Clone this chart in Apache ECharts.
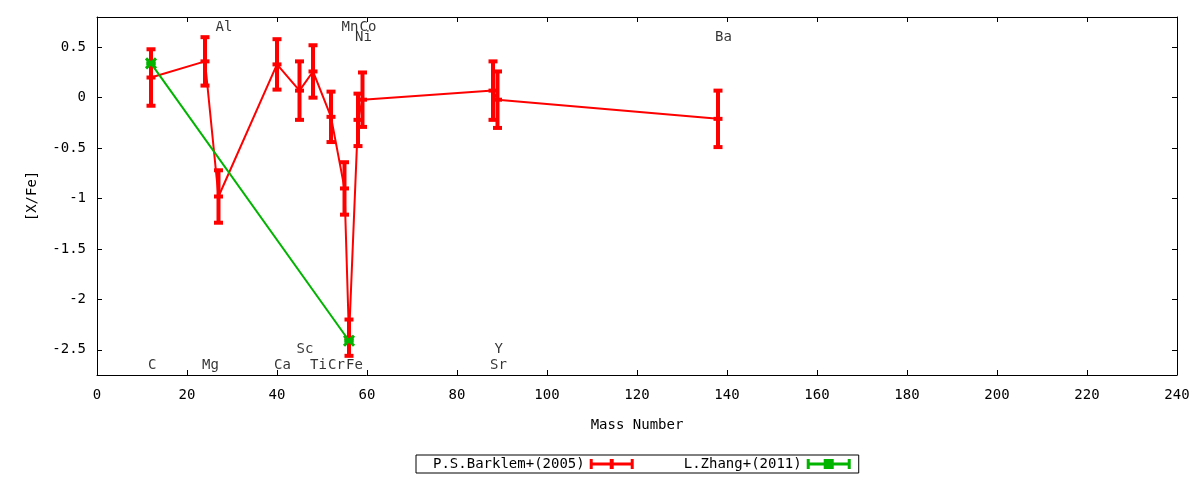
<!DOCTYPE html>
<html>
<head>
<meta charset="utf-8">
<script src="https://cdn.jsdelivr.net/npm/echarts@6/dist/echarts.min.js"></script>
<style>
html,body{margin:0;padding:0;background:#fff;}
#chart{width:1200px;height:480px;}
</style>
</head>
<body>
<div id="chart"></div>
<script>
// ---- data ----
const elements      = ['C','Mg','Al','Ca','Sc','Ti','Cr','Mn','Fe','Ni','Co','Sr','Y','Ba'];
const massNumbers   = [12, 24, 27, 40, 45, 48, 52, 55, 56, 58, 59, 88, 89, 138];
const barklemValues = [0.20, 0.36, -0.98, 0.33, 0.07, 0.26, -0.19, -0.90, -2.38, -0.22, -0.02, 0.07, -0.02, -0.21];
const barklemErrors = [0.28, 0.24, 0.26, 0.25, 0.29, 0.26, 0.25, 0.26, 0.18, 0.26, 0.27, 0.29, 0.28, 0.28];
const zhangMass     = [12, 56];
const zhangValues   = [0.34, -2.41];
const zhangErrors   = [0, 0];
const labelLevels   = [-2.65, -2.65, 0.7, -2.65, -2.5, -2.65, -2.65, 0.7, -2.65, 0.6, 0.7, -2.65, -2.5, 0.6];
const xTicks        = [0,20,40,60,80,100,120,140,160,180,200,220,240];
const yTicks        = [-2.5,-2,-1.5,-1,-0.5,0,0.5];
const seriesNames   = ['P.S.Barklem+(2005)', 'L.Zhang+(2011)'];

const RED = '#ff0000';
const GREEN = '#00b400';
const FONT = '"DejaVu Sans Mono", monospace';

const barklemPts = massNumbers.map((m, i) => [m, barklemValues[i], barklemErrors[i]]);
const zhangPts = zhangMass.map((m, i) => [m, zhangValues[i], zhangErrors[i]]);
const labelPts = massNumbers.map((m, i) => ({ value: [m, labelLevels[i]], name: elements[i] }));

function errRender(color, green) {
  return function (params, api) {
    const x = api.value(0), y = api.value(1), e = api.value(2);
    const top = api.coord([x, y + e]);
    const bot = api.coord([x, y - e]);
    const mid = api.coord([x, y]);
    const st = { fill: color };
    const children = [
      { type: 'rect', shape: { x: top[0] - 2, y: top[1], width: 4, height: Math.max(bot[1] - top[1], 0) }, style: st },
      { type: 'rect', shape: { x: top[0] - 4.5, y: top[1] - 2, width: 9, height: 4 }, style: st },
      { type: 'rect', shape: { x: bot[0] - 4.5, y: bot[1] - 2, width: 9, height: 4 }, style: st }
    ];
    if (green) {
      children.push({ type: 'line', shape: { x1: mid[0] - 5, y1: mid[1] - 5, x2: mid[0] + 5, y2: mid[1] + 5 }, style: { stroke: color, lineWidth: 3 } });
      children.push({ type: 'line', shape: { x1: mid[0] - 5, y1: mid[1] + 5, x2: mid[0] + 5, y2: mid[1] - 5 }, style: { stroke: color, lineWidth: 3 } });
    } else {
      children.push({ type: 'rect', shape: { x: mid[0] - 4.5, y: mid[1] - 2, width: 9, height: 4 }, style: st });
    }
    return { type: 'group', children: children };
  };
}

const lineStyleAxis = { axisLine: { show: true, onZero: false, lineStyle: { color: '#000', width: 1 } }, splitLine: { show: false } };
const tickStyle = { show: true, inside: true, length: 5, lineStyle: { color: '#000' } };

const chart = echarts.init(document.getElementById('chart'));
chart.setOption({
  animation: false,
  backgroundColor: '#fff',
  grid: { left: 97, right: 23, top: 17, bottom: 105 },
  legend: {
    left: 416, top: 455,
    orient: 'horizontal',
    align: 'right',
    padding: [2, 8, 2, 17],
    itemGap: 50,
    itemWidth: 44,
    itemHeight: 10,
    borderColor: '#000',
    borderWidth: 1,
    borderRadius: 0,
    textStyle: { fontFamily: FONT, fontSize: 14, color: '#000' },
    data: [
      { name: seriesNames[0], icon: 'path://M0,0H3V3.5H20V0H24V3.5H41V0H44V10H41V6.5H24V10H20V6.5H3V10H0Z' },
      { name: seriesNames[1], icon: 'path://M0,0H3V3.5H17V0H27V3.5H41V0H44V10H41V6.5H27V10H17V6.5H3V10H0Z' }
    ]
  },
  xAxis: [
    Object.assign({}, lineStyleAxis, {
      type: 'value', min: 0, max: 240, interval: 20, position: 'bottom',
      axisTick: tickStyle,
      name: 'Mass Number', nameLocation: 'middle', nameGap: 43,
      nameTextStyle: { fontFamily: FONT, fontSize: 14, color: '#000' },
      axisLabel: { margin: 13, fontFamily: FONT, fontSize: 14, color: '#000', customValues: xTicks }
    }),
    Object.assign({}, lineStyleAxis, {
      type: 'value', min: 0, max: 240, interval: 20, position: 'top',
      axisTick: tickStyle,
      axisLabel: { show: false }
    })
  ],
  yAxis: [
    Object.assign({}, lineStyleAxis, {
      type: 'value', min: -2.75, max: 0.8, position: 'left',
      axisTick: Object.assign({}, tickStyle, { customValues: yTicks }),
      axisLabel: { margin: 11, fontFamily: FONT, fontSize: 14, color: '#000', customValues: yTicks },
      name: '[X/Fe]', nameLocation: 'middle', nameGap: 58, nameRotate: 90,
      nameTextStyle: { fontFamily: FONT, fontSize: 14, color: '#000' }
    }),
    Object.assign({}, lineStyleAxis, {
      type: 'value', min: -2.75, max: 0.8, position: 'right',
      axisTick: Object.assign({}, tickStyle, { customValues: yTicks }),
      axisLabel: { show: false }
    })
  ],
  series: [
    {
      name: seriesNames[0], type: 'line', xAxisIndex: 0, yAxisIndex: 0,
      data: barklemPts.map(p => [p[0], p[1]]),
      symbol: 'none', lineStyle: { color: RED, width: 2 }, itemStyle: { color: RED }, z: 2
    },
    {
      name: seriesNames[0], type: 'custom', xAxisIndex: 0, yAxisIndex: 0,
      data: barklemPts, renderItem: errRender(RED, false), itemStyle: { color: RED }, clip: false, z: 3
    },
    {
      name: seriesNames[1], type: 'line', xAxisIndex: 0, yAxisIndex: 0,
      data: zhangPts.map(p => [p[0], p[1]]),
      symbol: 'none', lineStyle: { color: GREEN, width: 2 }, itemStyle: { color: GREEN }, z: 4
    },
    {
      name: seriesNames[1], type: 'custom', xAxisIndex: 0, yAxisIndex: 0,
      data: zhangPts, renderItem: errRender(GREEN, true), itemStyle: { color: GREEN }, clip: false, z: 5
    },
    {
      name: 'labels', type: 'scatter', xAxisIndex: 0, yAxisIndex: 0,
      data: labelPts, symbolSize: 0, silent: true, z: 6,
      label: {
        show: true, position: 'inside', align: 'left', verticalAlign: 'middle', offset: [-3, 0],
        formatter: p => p.name, fontFamily: FONT, fontSize: 14, color: '#000'
      }
    }
  ]
});
</script>
</body>
</html>
